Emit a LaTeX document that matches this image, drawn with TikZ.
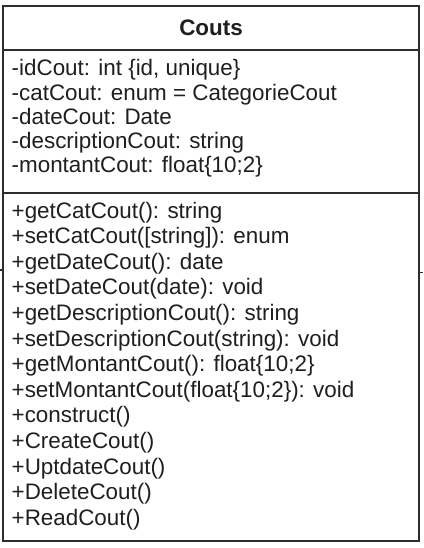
\documentclass[tikz,border=0pt]{standalone}
\usepackage{fontspec}
\setmainfont{Liberation Sans}
\usepackage{tikz}
\usetikzlibrary{positioning}
\definecolor{umlline}{RGB}{45,45,45}

\begin{document}
\begin{tikzpicture}[x=1pt, y=1pt,
    classbox/.style={draw=umlline, line width=1.5pt, fill=white,
                     minimum width=416pt, inner sep=0pt, outer sep=0pt},
    classrow/.style={font=\fontsize{22.4}{26}\selectfont\color{black!88},
                     anchor=base west, inner sep=0pt}]
    \useasboundingbox (0,0) rectangle (423,-548);
    % stubs of the connectors cut off at the edges
    \coordinate (lstub) at (0,-270);
    \coordinate (rstub) at (423,-272.5);
    % class box
    \node[classbox, minimum height=44pt, anchor=north west,
          font=\fontsize{22.4}{26}\selectfont\bfseries\color{black!88}]
      (title) at (3,-6) {Couts};
    \node[classbox, minimum height=143pt, below=0pt of title] (attrs) {};
    \node[classbox, minimum height=348pt, below=0pt of attrs] (ops) {};
    \draw[umlline, line width=1.2pt] (lstub) -- (ops.west |- lstub);
    \draw[umlline, line width=1.2pt] (ops.east |- rstub) -- (rstub);
    % attributes
    \foreach \t [count=\i] in {{-idCout: int \{id, unique\}},
        {-catCout: enum = CategorieCout}, {-dateCout: Date},
        {-descriptionCout: string}, {-montantCout: float\{10;2\}}}{
      \node[classrow] (a\i) at (11.5,-76-\i*24.2+24.2) {\t};
    }
    % operations
    \foreach \t [count=\i] in {{+getCatCout(): string},
        {+setCatCout([string]): enum}, {+getDateCout(): date},
        {+setDateCout(date): void}, {+getDescriptionCout(): string},
        {+setDescriptionCout(string): void}, {+getMontantCout(): float\{10;2\}},
        {+setMontantCout(float\{10;2\}): void}, {+construct()},
        {+CreateCout()}, {+UptdateCout()}, {+DeleteCout()}, {+ReadCout()}}{
      \node[classrow] (m\i) at (11.5,-218-\i*25.6+25.6) {\t};
    }
\end{tikzpicture}
\end{document}
